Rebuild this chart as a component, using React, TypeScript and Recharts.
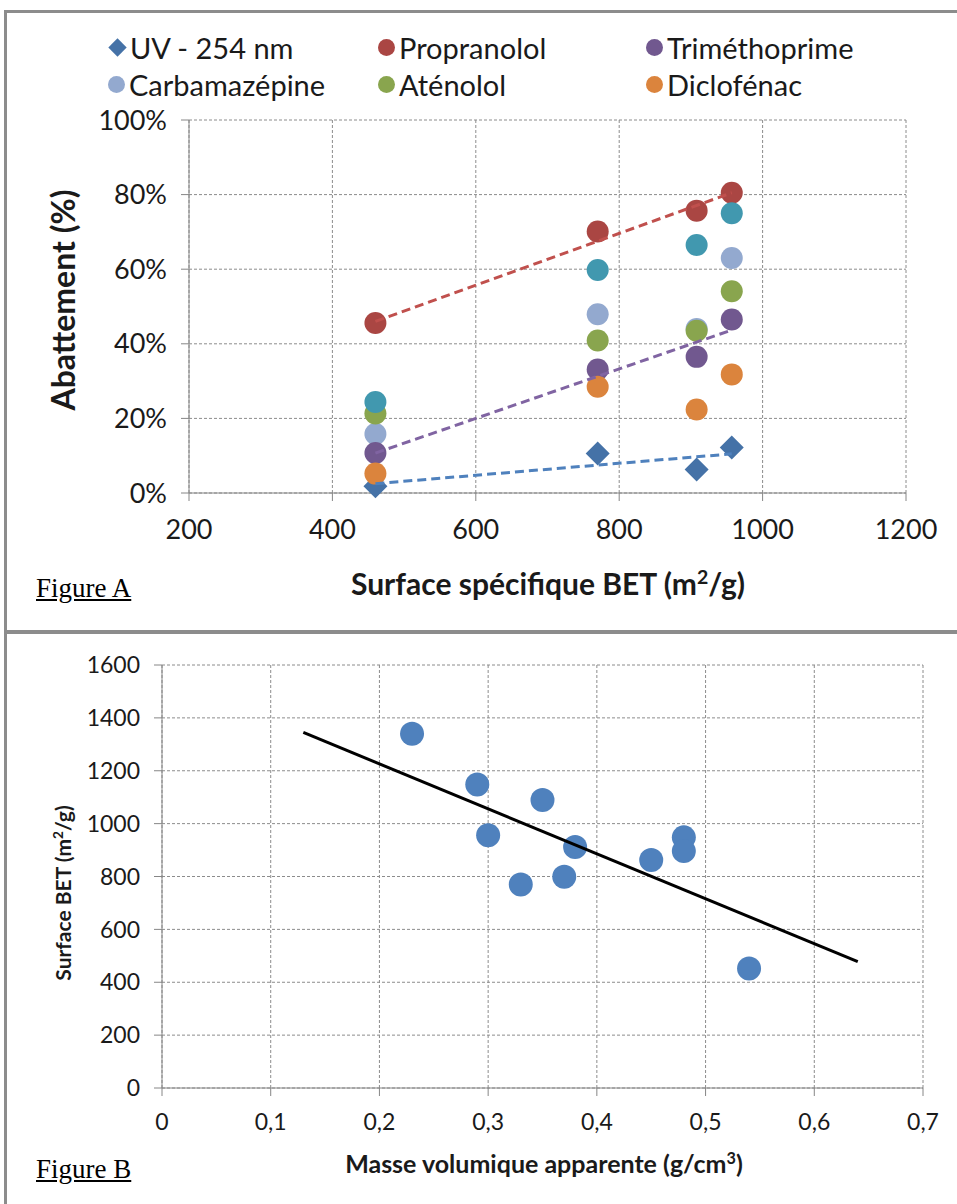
import { ScatterChart, Scatter, XAxis, YAxis, CartesianGrid } from "recharts";

// Figure A — abattement vs surface spécifique BET
const SURFACE = [460, 770, 908, 957];
const UV = [1.8, 10.6, 6.3, 12.2];
const PROPRANOLOL = [45.6, 70.1, 75.7, 80.5];
const TRIMETHOPRIME = [10.7, 33.1, 36.5, 46.5];
const CARBAMAZEPINE = [15.8, 47.9, 44.0, 63.0];
const ATENOLOL = [21.3, 40.9, 43.5, 54.1];
const DICLOFENAC = [5.2, 28.5, 22.4, 31.8];
const AUTRE = [24.4, 59.8, 66.5, 75.0]; // teal series, not in the legend

const TREND_X = [460, 957];
const UV_TREND = [2.5, 10.5];
const PROP_TREND = [46, 80.5];
const TRIM_TREND = [10.7, 43.7];

const A_XTICKS = [200, 400, 600, 800, 1000, 1200];
const A_YTICKS = [0, 20, 40, 60, 80, 100];

// Figure B — surface BET vs masse volumique
const DENSITY = [0.23, 0.29, 0.35, 0.3, 0.38, 0.37, 0.33, 0.45, 0.48, 0.48, 0.54];
const BET = [1340, 1148, 1089, 956, 912, 799, 770, 862, 948, 896, 452];
const FIT_X = [0.13, 0.64];
const FIT_Y = [1345, 478];

const B_XTICKS = [0, 0.1, 0.2, 0.3, 0.4, 0.5, 0.6, 0.7];
const B_YTICKS = [0, 200, 400, 600, 800, 1000, 1200, 1400, 1600];

const LEGEND = [
  { name: "UV - 254 nm", color: "#4572A7", diamond: true },
  { name: "Propranolol", color: "#AA4643" },
  { name: "Triméthoprime", color: "#71588F" },
  { name: "Carbamazépine", color: "#93A9CF" },
  { name: "Aténolol", color: "#89A54E" },
  { name: "Diclofénac", color: "#DB843D" },
];

const pts = (xs: number[], ys: number[]) => xs.map((x, i) => ({ x, y: ys[i] }));

const dot = (color: string, r: number) => (p: any) =>
  <circle cx={p.cx} cy={p.cy} r={r} fill={color} />;
const diamond = (color: string, s: number) => (p: any) => (
  <polygon
    points={`${p.cx},${p.cy - s} ${p.cx + s},${p.cy} ${p.cx},${p.cy + s} ${p.cx - s},${p.cy}`}
    fill={color}
  />
);
const none = () => <g />;

const FONT = "Lato, 'Open Sans', sans-serif";
const GRID = "#8c8c8c";
const AXIS = "#868686";

const abs = (left: number, top: number, extra: any = {}) => ({
  position: "absolute" as const,
  left,
  top,
  ...extra,
});

export default function App() {
  const aTick = { fill: "#1a1a1a", fontSize: 27, fontFamily: FONT };
  const bTick = { fill: "#1a1a1a", fontSize: 23, fontFamily: FONT };

  return (
    <div style={abs(0, 0, { width: 957, height: 1204, overflow: "hidden", background: "#fff" })}>
      {/* frame */}
      <div style={abs(4, 10, { width: 970, height: 1210, border: "3px solid #8c8c8c", boxSizing: "border-box" })} />
      <div style={abs(4, 630, { width: 957, height: 4, background: "#8c8c8c" })} />

      {/* Figure A */}
      <div style={abs(0, 0)}>
        <ScatterChart width={957} height={632} margin={{ top: 120, right: 51, bottom: 89, left: 109 }}>
          <CartesianGrid stroke={GRID} strokeDasharray="3 2" />
          <XAxis
            type="number"
            dataKey="x"
            domain={[200, 1200]}
            ticks={A_XTICKS}
            height={50}
            stroke={AXIS}
            tickSize={8}
            tickMargin={19}
            tick={aTick}
          />
          <YAxis
            type="number"
            dataKey="y"
            domain={[0, 100]}
            ticks={A_YTICKS}
            width={80}
            stroke={AXIS}
            tickSize={8}
            tickMargin={14}
            tick={aTick}
            tickFormatter={(v: number) => `${v}%`}
          />
          <Scatter data={pts(SURFACE, UV)} shape={diamond("#4572A7", 12)} isAnimationActive={false} />
          <Scatter data={pts(SURFACE, PROPRANOLOL)} shape={dot("#AA4643", 11)} isAnimationActive={false} />
          <Scatter data={pts(SURFACE, CARBAMAZEPINE)} shape={dot("#93A9CF", 11)} isAnimationActive={false} />
          <Scatter data={pts(SURFACE, TRIMETHOPRIME)} shape={dot("#71588F", 11)} isAnimationActive={false} />
          <Scatter data={pts(SURFACE, ATENOLOL)} shape={dot("#89A54E", 11)} isAnimationActive={false} />
          <Scatter data={pts(SURFACE, DICLOFENAC)} shape={dot("#DB843D", 11)} isAnimationActive={false} />
          <Scatter data={pts(SURFACE, AUTRE)} shape={dot("#4198AF", 11)} isAnimationActive={false} />
          <Scatter
            data={pts(TREND_X, UV_TREND)}
            line={{ stroke: "#4F81BD", strokeWidth: 3, strokeDasharray: "9 5" }}
            shape={none}
            isAnimationActive={false}
          />
          <Scatter
            data={pts(TREND_X, PROP_TREND)}
            line={{ stroke: "#C0504D", strokeWidth: 3, strokeDasharray: "9 5" }}
            shape={none}
            isAnimationActive={false}
          />
          <Scatter
            data={pts(TREND_X, TRIM_TREND)}
            line={{ stroke: "#8064A2", strokeWidth: 3, strokeDasharray: "9 5" }}
            shape={none}
            isAnimationActive={false}
          />
        </ScatterChart>
      </div>

      {/* legend A */}
      {LEGEND.map((l, i) => {
        const col = i % 3;
        const row = Math.floor(i / 3);
        const mx = [117, 387, 655][col];
        const my = [47, 84][row];
        return (
          <div key={l.name} style={abs(mx - 9, my - 18, { display: "flex", alignItems: "center", height: 36, fontFamily: FONT, fontSize: 29, color: "#1a1a1a", whiteSpace: "nowrap" })}>
            <span
              style={{
                display: "inline-block",
                width: l.diamond ? 13 : 17,
                height: l.diamond ? 13 : 17,
                background: l.color,
                borderRadius: l.diamond ? 0 : "50%",
                transform: l.diamond ? "rotate(45deg)" : undefined,
                margin: l.diamond ? "0 6px 0 3px" : "0 4px 0 0",
              }}
            />
            {l.name}
          </div>
        );
      })}

      <div style={abs(62, 300, { transform: "translate(-50%, -50%) rotate(-90deg)", fontFamily: FONT, fontWeight: 700, fontSize: 32, color: "#1a1a1a", whiteSpace: "nowrap" })}>
        Abattement (%)
      </div>
      <div style={abs(548, 583, { transform: "translate(-50%, -50%)", fontFamily: FONT, fontWeight: 700, fontSize: 30, color: "#1a1a1a", whiteSpace: "nowrap" })}>
        Surface spécifique BET (m<sup style={{ fontSize: "0.65em" }}>2</sup>/g)
      </div>
      <div style={abs(36, 573, { fontFamily: "'Liberation Serif', serif", fontSize: 27, textDecoration: "underline", color: "#000" })}>
        Figure A
      </div>

      {/* Figure B */}
      <div style={abs(0, 632)}>
        <ScatterChart width={957} height={572} margin={{ top: 33, right: 34, bottom: 66, left: 82 }}>
          <CartesianGrid stroke={GRID} strokeDasharray="3 2" />
          <XAxis
            type="number"
            dataKey="x"
            domain={[0, 0.7]}
            ticks={B_XTICKS}
            height={50}
            stroke={AXIS}
            tickSize={8}
            tickMargin={18}
            tick={bTick}
            tickFormatter={(v: number) => (v === 0 ? "0" : v.toFixed(1).replace(".", ","))}
          />
          <YAxis
            type="number"
            dataKey="y"
            domain={[0, 1600]}
            ticks={B_YTICKS}
            width={80}
            stroke={AXIS}
            tickSize={8}
            tickMargin={14}
            tick={bTick}
          />
          <Scatter data={pts(DENSITY, BET)} shape={dot("#4F81BD", 12)} isAnimationActive={false} />
          <Scatter
            data={pts(FIT_X, FIT_Y)}
            line={{ stroke: "#000", strokeWidth: 3 }}
            shape={none}
            isAnimationActive={false}
          />
        </ScatterChart>
      </div>

      <div style={abs(62, 893, { transform: "translate(-50%, -50%) rotate(-90deg)", fontFamily: FONT, fontWeight: 700, fontSize: 21, color: "#1a1a1a", whiteSpace: "nowrap" })}>
        Surface BET (m<sup style={{ fontSize: "0.65em" }}>2</sup>/g)
      </div>
      <div style={abs(544, 1163, { transform: "translate(-50%, -50%)", fontFamily: FONT, fontWeight: 700, fontSize: 25, color: "#1a1a1a", whiteSpace: "nowrap" })}>
        Masse volumique apparente (g/cm<sup style={{ fontSize: "0.65em" }}>3</sup>)
      </div>
      <div style={abs(36, 1154, { fontFamily: "'Liberation Serif', serif", fontSize: 27, textDecoration: "underline", color: "#000" })}>
        Figure B
      </div>
    </div>
  );
}
